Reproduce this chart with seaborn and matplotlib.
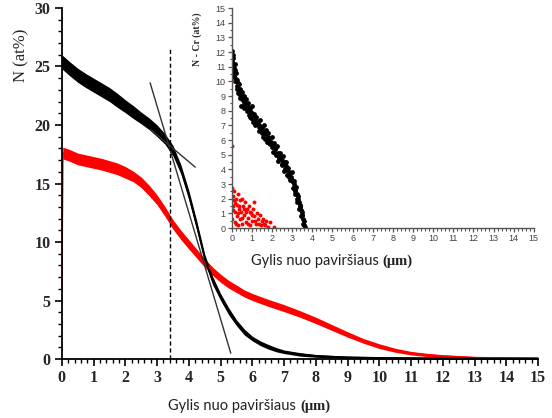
import numpy as np
import pandas as pd
import seaborn as sns
import matplotlib.pyplot as plt
from matplotlib.ticker import MultipleLocator

# main profile: black curve
black_x = [0, 0.25, 0.5, 0.75, 1, 1.25, 1.5, 1.75, 2, 2.25, 2.5, 2.75, 3, 3.25, 3.5, 3.75,
           4, 4.25, 4.5, 4.75, 5, 5.25, 5.5, 5.75, 6, 6.25, 6.5, 6.75, 7, 7.5, 8, 8.5,
           9, 10, 11, 12, 13, 15]
black_y = [25.4, 24.8, 24.25, 23.8, 23.4, 23.0, 22.6, 22.1, 21.6, 21.1, 20.6, 20.1, 19.5, 18.8,
           17.8, 16.2, 14.0, 11.4, 8.6, 6.7, 5.3, 4.1, 3.1, 2.3, 1.75, 1.35, 1.05, 0.8,
           0.62, 0.4, 0.27, 0.2, 0.15, 0.1, 0.08, 0.06, 0.05, 0.05]
black_noise = [0.6, 0.6, 0.6, 0.6, 0.6, 0.6, 0.6, 0.6, 0.55, 0.55, 0.5, 0.5, 0.5, 0.45,
               0.45, 0.4, 0.4, 0.4, 0.35, 0.35, 0.3, 0.3, 0.25, 0.25, 0.2, 0.2, 0.2, 0.18,
               0.15, 0.15, 0.12, 0.12, 0.1, 0.1, 0.1, 0.1, 0.1, 0.1]

# main profile: red curve
red_x = [0, 0.03, 0.25, 0.5, 0.75, 1, 1.25, 1.5, 1.75, 2, 2.25, 2.5, 2.75, 3, 3.25, 3.5,
         3.75, 4, 4.25, 4.5, 4.75, 5, 5.25, 5.5, 5.75, 6, 6.5, 7, 7.5, 8, 8.5, 9, 9.5,
         10, 10.5, 11, 11.5, 12, 12.5, 13, 14, 15]
red_y = [6.0, 17.6, 17.4, 17.1, 16.95, 16.8, 16.65, 16.45, 16.25, 15.95, 15.6, 15.1, 14.4,
         13.6, 12.6, 11.5, 10.6, 9.8, 9.0, 8.2, 7.5, 6.9, 6.4, 6.0, 5.6, 5.3, 4.8, 4.35,
         3.85, 3.3, 2.7, 2.1, 1.55, 1.1, 0.75, 0.5, 0.35, 0.25, 0.18, 0.12, 0.08, 0.05]
red_noise = [0, 0.5, 0.5, 0.5, 0.5, 0.5, 0.5, 0.5, 0.5, 0.5, 0.45, 0.45, 0.45,
             0.42, 0.42, 0.4, 0.4, 0.4, 0.38, 0.36, 0.35, 0.35, 0.33, 0.32, 0.3, 0.3, 0.3, 0.3,
             0.28, 0.27, 0.25, 0.23, 0.2, 0.2, 0.17, 0.15, 0.14, 0.12, 0.12, 0.1, 0.1, 0.1]

# guide lines
tangent_steep_x = [2.78, 5.32]
tangent_steep_y = [23.6, 0.5]
tangent_flat_x = [2.8, 4.2]
tangent_flat_y = [19.6, 16.4]
depth_mark = 3.4

# inset: N - Cr difference (black points)
ins_black_x = [0.02, 0.03, 0.05, 0.08, 0.1, 0.12, 0.15, 0.18, 0.2, 0.25, 0.28, 0.3, 0.35, 0.4,
               0.42, 0.45, 0.5, 0.55, 0.6, 0.62, 0.7, 0.75, 0.8, 0.85, 0.9, 0.95, 1.0, 1.05,
               1.1, 1.15, 1.2, 1.3, 1.35, 1.4, 1.5, 1.55, 1.6, 1.7, 1.75, 1.8, 1.9, 2.0, 2.05,
               2.1, 2.2, 2.25, 2.3, 2.4, 2.5, 2.55, 2.6, 2.7, 2.75, 2.8, 2.9, 3.0, 3.05, 3.1,
               3.15, 3.2, 3.25, 3.3, 3.35, 3.4, 3.45, 3.5, 3.55, 3.6, 3.62,
               0.07, 0.22, 0.38, 0.52, 0.68, 0.82, 0.97, 1.12, 1.27, 1.45, 1.62, 1.78, 1.95,
               2.12, 2.28, 2.45, 2.62, 2.78, 2.95, 3.08, 3.22, 3.32, 3.42, 3.52,
               0.04, 0.14, 0.3, 0.46, 0.6, 0.76, 0.9, 1.04, 1.2, 1.36, 1.52, 1.68, 1.85, 2.02,
               2.18, 2.35, 2.52, 2.68, 2.85, 3.0, 3.12, 3.28, 3.38, 3.48, 3.58,
               0.1, 0.26, 0.43, 0.58, 0.73, 0.88, 1.02, 1.18, 1.33, 1.48, 1.66, 1.83, 1.99,
               2.15, 2.33, 2.48, 2.66, 2.83, 2.98, 3.13, 3.26, 3.37, 3.47]
ins_black_y = [12.1, 11.4, 10.6, 11.8, 10.9, 10.3, 11.2, 10.0, 10.6, 9.5, 10.1, 9.2, 9.8, 8.9,
               9.5, 8.3, 9.3, 8.7, 9.0, 8.2, 8.8, 8.0, 8.5, 7.7, 8.2, 7.5, 8.3, 7.2,
               7.8, 7.0, 7.6, 7.1, 6.6, 7.4, 6.8, 6.2, 7.0, 6.4, 5.9, 6.5, 5.7, 6.2, 5.2,
               5.8, 5.0, 5.6, 4.6, 5.1, 4.3, 4.9, 3.9, 4.5, 3.6, 4.1, 3.3, 3.8, 2.7, 3.2,
               2.3, 2.8, 1.8, 2.2, 1.3, 1.6, 0.8, 1.1, 0.3, 0.5, 0.05,
               11.2, 10.2, 9.4, 8.8, 8.5, 8.1, 7.9, 7.4, 7.3, 6.9, 6.5, 6.2, 5.9,
               5.4, 5.1, 4.7, 4.3, 3.9, 3.5, 3.0, 2.3, 1.8, 1.2, 0.6,
               11.6, 10.8, 9.9, 9.1, 8.6, 8.3, 7.6, 7.6, 7.2, 7.0, 6.5, 6.7, 6.0, 5.6,
               5.5, 4.9, 4.6, 4.2, 3.7, 3.3, 2.6, 2.0, 1.5, 0.9, 0.2,
               10.4, 9.7, 9.1, 8.4, 8.2, 7.9, 7.5, 7.1, 6.9, 6.6, 6.1, 5.8, 5.5,
               5.1, 4.8, 4.4, 4.0, 3.5, 3.2, 2.5, 2.0, 1.4, 0.9]

# inset: red points
ins_red_x = [0.02, 0.05, 0.05, 0.03, 0.1, 0.12, 0.15, 0.15, 0.2, 0.25, 0.25, 0.3, 0.3, 0.35,
             0.4, 0.4, 0.45, 0.5, 0.5, 0.55, 0.6, 0.65, 0.7, 0.75, 0.8, 0.85, 0.9, 0.95,
             1.0, 1.05, 1.1, 1.1, 1.2, 1.25, 1.3, 1.4, 1.45, 1.55, 1.6, 1.7, 1.8, 1.9, 2.1,
             0.08, 0.18, 0.22, 0.33, 0.38, 0.48, 0.6, 0.68, 0.78, 0.88, 1.0, 1.15, 1.35,
             1.5, 1.65, 0.0, 0.02]
ins_red_y = [2.7, 2.2, 1.5, 0.6, 2.5, 1.9, 1.1, 0.4, 2.0, 1.6, 0.8, 2.3, 0.2, 1.3,
             1.9, 0.6, 1.1, 2.0, 0.3, 1.5, 0.9, 1.8, 0.4, 1.3, 0.7, 1.5, 0.2, 1.0,
             0.5, 1.3, 1.8, 0.8, 0.3, 1.0, 0.6, 0.9, 0.2, 0.6, 0.3, 0.5, 0.1, 0.4, 0.1,
             1.2, 1.7, 0.3, 1.0, 1.5, 0.7, 1.3, 1.1, 0.3, 1.1, 0.9, 0.5, 0.3,
             0.5, 0.2, 10.0, 5.6]

sns.set_theme(style="ticks")
plt.rcParams['font.family'] = ['Liberation Serif', 'DejaVu Serif']

fig = plt.figure(figsize=(5.52, 4.18), dpi=100)
ax = fig.add_axes([0.112, 0.141, 0.863, 0.840])

df_black = pd.DataFrame({'x': black_x, 'y': black_y, 'n': black_noise})
df_red = pd.DataFrame({'x': red_x, 'y': red_y, 'n': red_noise})

ax.fill_between(df_red['x'], df_red['y'] - df_red['n'], df_red['y'] + df_red['n'],
                color='#ff0000', lw=0)
sns.lineplot(data=df_red, x='x', y='y', color='#ff0000', lw=1.2, ax=ax)
ax.fill_between(df_black['x'], df_black['y'] - df_black['n'], df_black['y'] + df_black['n'],
                color='black', lw=0)
sns.lineplot(data=df_black, x='x', y='y', color='black', lw=1.2, ax=ax)

ax.plot(tangent_steep_x, tangent_steep_y, color='#333333', lw=1)
ax.plot(tangent_flat_x, tangent_flat_y, color='#333333', lw=1)
ax.plot([depth_mark, depth_mark], [0, 26.7], color='black', lw=1, ls=(0, (3, 2)))

ax.set_xlim(0, 15)
ax.set_ylim(0, 30)
ax.xaxis.set_major_locator(MultipleLocator(1))
ax.xaxis.set_minor_locator(MultipleLocator(0.2))
ax.yaxis.set_major_locator(MultipleLocator(5))
ax.yaxis.set_minor_locator(MultipleLocator(1))
ax.tick_params(which='major', direction='out', length=5, width=1.2, color='black',
               labelsize=11.5, pad=3)
ax.tick_params(which='minor', direction='out', length=3, width=1, color='black')
for lab in ax.get_xticklabels() + ax.get_yticklabels():
    lab.set_fontweight('bold')
for s in ['top', 'right']:
    ax.spines[s].set_visible(False)
for s in ['left', 'bottom']:
    ax.spines[s].set_linewidth(1.3)
    ax.spines[s].set_color('black')
ax.set_xlabel('')
ax.set_ylabel('N (at%)', fontsize=12, va='center')
ax.yaxis.set_label_coords(-0.084, 0.865)

t = ax.text(0.5, -0.145, 'Gylis nuo paviršiaus ', transform=ax.transAxes, ha='right',
            va='baseline', fontsize=10.5, family=['Lato', 'DejaVu Sans'], color='#222222')
ax.annotate('(μm)', xy=(1, 0), xycoords=t, va='bottom', ha='left', fontsize=10.5,
            fontweight='bold', family=['Liberation Serif', 'DejaVu Serif'], color='#222222')

# inset
ins = fig.add_axes([0.420, 0.4545, 0.547, 0.526])
sns.scatterplot(x=ins_black_x, y=ins_black_y, color='black', s=12, linewidth=0, ax=ins)
sns.scatterplot(x=ins_red_x, y=ins_red_y, color='#ff0000', s=8, linewidth=0, ax=ins)
ins.set_xlim(0, 15)
ins.set_ylim(0, 15)
ins.xaxis.set_major_locator(MultipleLocator(1))
ins.xaxis.set_minor_locator(MultipleLocator(0.2))
ins.yaxis.set_major_locator(MultipleLocator(1))
ins.yaxis.set_minor_locator(MultipleLocator(0.5))
ins.tick_params(which='major', direction='out', length=3, width=0.9, color='#555555',
                labelsize=6.5, labelcolor='#444444', pad=1.5)
ins.tick_params(which='minor', direction='out', length=1.8, width=0.8, color='#555555')
for lab in ins.get_xticklabels() + ins.get_yticklabels():
    lab.set_family(['Liberation Sans', 'DejaVu Sans'])
for s in ['top', 'right']:
    ins.spines[s].set_visible(False)
for s in ['left', 'bottom']:
    ins.spines[s].set_linewidth(1)
    ins.spines[s].set_color('#555555')
ins.set_ylabel('N - Cr (at%)', fontsize=7, fontweight='bold', labelpad=4)
ins.yaxis.set_label_coords(-0.10, 0.86)

t2 = ins.text(0.5, -0.17, 'Gylis nuo paviršiaus ', transform=ins.transAxes, ha='right',
              va='baseline', fontsize=10.5, family=['Lato', 'DejaVu Sans'], color='#222222')
ins.annotate('(μm)', xy=(1, 0), xycoords=t2, va='bottom', ha='left', fontsize=10.5,
             fontweight='bold', family=['Liberation Serif', 'DejaVu Serif'], color='#222222')

fig.savefig('out.png', dpi=100)
